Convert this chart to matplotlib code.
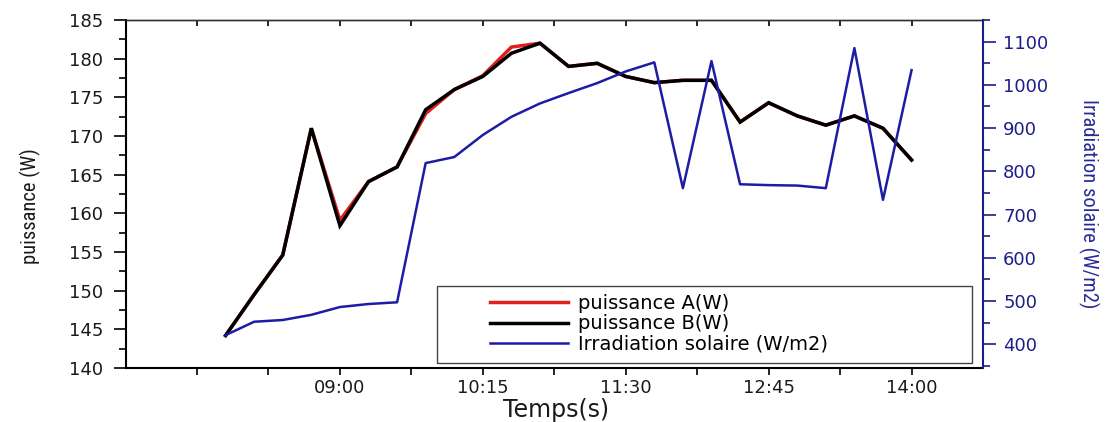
import matplotlib
matplotlib.use("Agg")
import matplotlib.pyplot as plt
from matplotlib import font_manager
from matplotlib.font_manager import FontProperties
from matplotlib.patches import Rectangle
from matplotlib.lines import Line2D
from matplotlib.ticker import MultipleLocator

# Measurement times (every 15 minutes)
times = ["08:00", "08:15", "08:30", "08:45", "09:00", "09:15", "09:30", "09:45",
         "10:00", "10:15", "10:30", "10:45", "11:00", "11:15", "11:30", "11:45",
         "12:00", "12:15", "12:30", "12:45", "13:00", "13:15", "13:30", "13:45",
         "14:00"]

# Power of panel A and panel B (W)
puissance_a = [144.2, 149.5, 154.6, 171.0, 159.1, 164.1, 166.0, 172.9, 176.0,
               177.8, 181.5, 182.0, 179.0, 179.4, 177.7, 176.9, 177.2, 177.2,
               171.8, 174.3, 172.6, 171.4, 172.6, 171.0, 166.9]
puissance_b = [144.2, 149.5, 154.6, 171.0, 158.4, 164.1, 166.0, 173.4, 176.0,
               177.7, 180.7, 182.0, 179.0, 179.4, 177.7, 176.9, 177.2, 177.2,
               171.8, 174.3, 172.6, 171.4, 172.6, 171.0, 166.9]

# Solar irradiance (W/m2)
irradiation = [421, 452, 456, 468, 486, 493, 497, 819, 833, 884, 926, 957, 981,
               1004, 1031, 1052, 761, 1055, 770, 768, 767, 761, 1085, 734, 1034]

# Time axis ticks and their labels
tick_times = ["07:45", "08:22:30", "09:00", "09:37:30", "10:15", "10:52:30",
              "11:30", "12:07:30", "12:45", "13:22:30", "14:00"]
tick_labels = ["", "", "09:00", "", "10:15", "", "11:30", "", "12:45", "", "14:00"]
x_limits = ["07:07:30", "14:37:30"]


def to_hours(s):
    parts = [float(p) for p in s.split(":")]
    while len(parts) < 3:
        parts.append(0.0)
    return parts[0] + parts[1] / 60.0 + parts[2] / 3600.0


x = [to_hours(t) for t in times]

plt.rcParams["font.family"] = ["DejaVu Sans"]

# A narrow face for the rotated axis titles when one is installed
title_font = FontProperties(family="DejaVu Sans", size=12.0)
narrow = None
for entry in font_manager.fontManager.ttflist:
    if entry.style != "normal" or entry.weight not in (400, "normal", "regular"):
        continue
    if entry.name == "Liberation Sans Narrow" or (
            entry.name in ("Roboto", "Roboto Condensed", "Noto Sans", "Open Sans")
            and entry.stretch in ("condensed", "semi-condensed")):
        narrow = entry
        break
if narrow is not None:
    title_font = FontProperties(fname=narrow.fname, size=14.8)

NAVY = "#1e1e8a"
BLUE = "#1c1ca6"

fig = plt.figure(figsize=(11.10, 4.22), dpi=100)
ax = fig.add_axes([0.1131, 0.1280, 0.7725, 0.8246])
ax2 = ax.twinx()

ax.plot(x, puissance_a, color="#e0201c", lw=2.5, solid_joinstyle="miter", zorder=2)
ax.plot(x, puissance_b, color="black", lw=2.5, solid_joinstyle="miter", zorder=3)
ax2.plot(x, irradiation, color=BLUE, lw=1.8, zorder=2)

# Left axis: power
ax.set_ylim(140, 185)
ax.yaxis.set_major_locator(MultipleLocator(5))
ax.yaxis.set_minor_locator(MultipleLocator(2.5))
ax.tick_params(axis="y", which="major", direction="out", length=9, width=1.2,
               pad=7, labelsize=13, labelcolor="#1a1a1a")
ax.tick_params(axis="y", which="minor", direction="out", length=5, width=1.2)

# Time axis
ax.set_xlim(to_hours(x_limits[0]), to_hours(x_limits[1]))
ax.set_xticks([to_hours(t) for t in tick_times])
ax.set_xticklabels(tick_labels)
ax.tick_params(axis="x", which="major", direction="out", length=5, width=1.2,
               pad=3, labelsize=13, labelcolor="#1a1a1a")

top = ax.secondary_xaxis("top")
top.set_xticks([to_hours(t) for t in tick_times])
top.tick_params(axis="x", direction="in", length=4, width=1.2, labeltop=False)
top.spines["top"].set_linewidth(1.0)
top.spines["top"].set_color("#333333")

for side in ("left", "bottom"):
    ax.spines[side].set_linewidth(1.5)
ax.spines["top"].set_linewidth(1.0)
ax.spines["top"].set_color("#333333")
ax.spines["right"].set_visible(False)

# Right axis: irradiance
ax2.set_ylim(345, 1150)
ax2.yaxis.set_major_locator(MultipleLocator(100))
ax2.yaxis.set_minor_locator(MultipleLocator(50))
ax2.tick_params(axis="y", which="major", direction="out", length=9, width=1.2,
                pad=5.5, labelsize=13, colors=NAVY)
ax2.tick_params(axis="y", which="minor", direction="out", length=5, width=1.2,
                colors=NAVY)
for side in ("left", "top", "bottom"):
    ax2.spines[side].set_visible(False)
ax2.spines["right"].set_color(NAVY)
ax2.spines["right"].set_linewidth(1.5)

# Axis titles
ax.set_ylabel("puissance (W)", fontproperties=title_font,
              va="center", ha="center", color="#1a1a1a")
ax.yaxis.set_label_coords(-0.1114, 0.4655)
ax2.set_ylabel("Irradiation solaire (W/m2)", fontproperties=title_font,
               color="#2a2a96", rotation=270, va="center", ha="center")
ax2.yaxis.set_label_coords(1.1225, 0.471)
ax.set_xlabel("Temps(s)", fontsize=17, va="center", color="#1a1a1a")
ax.xaxis.set_label_coords(0.502, -0.1207)

# Legend with a plain rectangular frame
frame = Rectangle((0.3633, 0.0144), 0.6239, 0.2213, transform=ax2.transAxes,
                  facecolor="white", edgecolor="#444444", lw=1.0, zorder=4)
ax2.add_patch(frame)
handles = [Line2D([], [], color="#e0201c", lw=2.5),
           Line2D([], [], color="black", lw=2.5),
           Line2D([], [], color=BLUE, lw=1.8)]
labels = ["puissance A(W)", "puissance B(W)", "Irradiation solaire (W/m2)"]
leg = ax2.legend(handles, labels, loc="upper left",
                 bbox_to_anchor=(0.425, 0.2118), frameon=False, borderpad=0,
                 borderaxespad=0, labelspacing=0.06, handlelength=4.0,
                 handletextpad=0.55, fontsize=14)
leg.set_zorder(5)

fig.savefig("out.png", dpi=100)
